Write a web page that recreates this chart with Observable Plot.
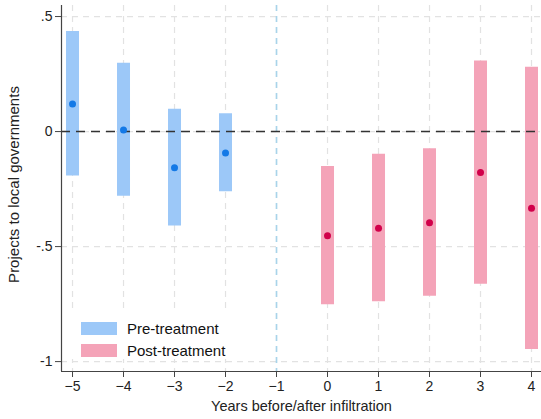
<!DOCTYPE html>
<html>
<head>
<meta charset="utf-8">
<script src="https://cdn.jsdelivr.net/npm/d3@7"></script>
<script src="https://cdn.jsdelivr.net/npm/@observablehq/plot@0.6"></script>
<style>
  html, body { margin: 0; padding: 0; background: #fff; }
  #wrap { position: relative; width: 541px; height: 419px; font-family: "Liberation Sans", Arial, sans-serif; }
  #legend { position: absolute; left: 70px; top: 313px; width: 160px; height: 46px; background: #fff; }
  .item { position: absolute; left: 11px; height: 14px; display: flex; align-items: center; font-size: 15px; color: #111; white-space: nowrap; }
  .sw { width: 36px; height: 13px; margin-right: 10px; }
</style>
</head>
<body>
<div id="wrap"></div>
<script>
// ---- data ----
const preYears  = [-5, -4, -3, -2];
const preEst    = [0.12, 0.007, -0.157, -0.093];
const preLo     = [-0.193, -0.281, -0.41, -0.262];
const preHi     = [0.435, 0.297, 0.097, 0.077];

const postYears = [0, 1, 2, 3, 4];
const postEst   = [-0.453, -0.42, -0.396, -0.178, -0.333];
const postLo    = [-0.753, -0.74, -0.716, -0.664, -0.947];
const postHi    = [-0.152, -0.099, -0.075, 0.307, 0.28];

const xTicks = [-5, -4, -3, -2, -1, 0, 1, 2, 3, 4];
const yTicks = [0.5, 0, -0.5, -1];
const yTickLabels = [".5", "0", "-.5", "-1"];
const treatYear = -1;
const legendLabels = ["Pre-treatment", "Post-treatment"];

const xDomain = [-5.216, 4.196];
const yDomain = [-1.043, 0.548];

const colPreBar = "#9cc8f8", colPreDot = "#1479e6";
const colPostBar = "#f4a3b8", colPostDot = "#d1004a";

const pre = preYears.map((x, i) => ({x, est: preEst[i], lo: preLo[i], hi: preHi[i]}));
const post = postYears.map((x, i) => ({x, est: postEst[i], lo: postLo[i], hi: postHi[i]}));

const chart = Plot.plot({
  width: 541,
  height: 419,
  marginTop: 5,
  marginBottom: 48,
  marginLeft: 61,
  marginRight: 0,
  style: {fontFamily: "Liberation Sans, Arial, sans-serif", fontSize: "14px", color: "#222", background: "#fff"},
  x: {domain: xDomain, ticks: xTicks, tickFormat: d => String(d)},
  y: {domain: yDomain, ticks: yTicks, tickFormat: d => yTickLabels[yTicks.indexOf(d)]},
  marks: [
    Plot.gridX(xTicks, {stroke: "#e2e2e2", strokeOpacity: 1, strokeDasharray: "6,5", strokeWidth: 1.2}),
    Plot.gridY(yTicks, {stroke: "#e2e2e2", strokeOpacity: 1, strokeDasharray: "6,5", strokeWidth: 1.2}),
    Plot.ruleX([treatYear], {stroke: "#a8d4ea", strokeWidth: 1.6, strokeDasharray: "6,5"}),
    Plot.ruleX(pre, {x: "x", y1: "lo", y2: "hi", stroke: colPreBar, strokeWidth: 13}),
    Plot.ruleX(post, {x: "x", y1: "lo", y2: "hi", stroke: colPostBar, strokeWidth: 13}),
    Plot.ruleY([0], {stroke: "#333", strokeWidth: 1.6, strokeDasharray: "9,6"}),
    Plot.dot(pre, {x: "x", y: "est", r: 3.5, fill: colPreDot, stroke: "none"}),
    Plot.dot(post, {x: "x", y: "est", r: 3.5, fill: colPostDot, stroke: "none"}),
    Plot.ruleX([xDomain[0]], {stroke: "#444", strokeWidth: 1.2}),
    Plot.ruleY([yDomain[0]], {stroke: "#444", strokeWidth: 1.2}),
    Plot.axisX({ticks: xTicks, tickSize: 6, tickPadding: 4, stroke: "#444", fontSize: 14, label: null}),
    Plot.axisY({ticks: yTicks, tickSize: 6, tickPadding: 3, stroke: "#444", fontSize: 14, label: null,
      tickFormat: d => yTickLabels[yTicks.indexOf(d)]}),
    Plot.text(["Years before/after infiltration"], {frameAnchor: "bottom", dy: 39, fontSize: 14.5, fill: "#222"}),
    Plot.text(["Projects to local governments"], {frameAnchor: "left", textAnchor: "middle", dx: -47, dy: -4, rotate: -90, fontSize: 15, fill: "#222"})
  ]
});

const wrap = document.getElementById("wrap");
wrap.appendChild(chart);

const legend = document.createElement("div");
legend.id = "legend";
const cols = [colPreBar, colPostBar];
legendLabels.forEach((lab, i) => {
  const it = document.createElement("div");
  it.className = "item";
  it.style.top = (8 + i * 22) + "px";
  const sw = document.createElement("span");
  sw.className = "sw";
  sw.style.background = cols[i];
  it.appendChild(sw);
  it.appendChild(document.createTextNode(lab));
  legend.appendChild(it);
});
wrap.appendChild(legend);
</script>
</body>
</html>
